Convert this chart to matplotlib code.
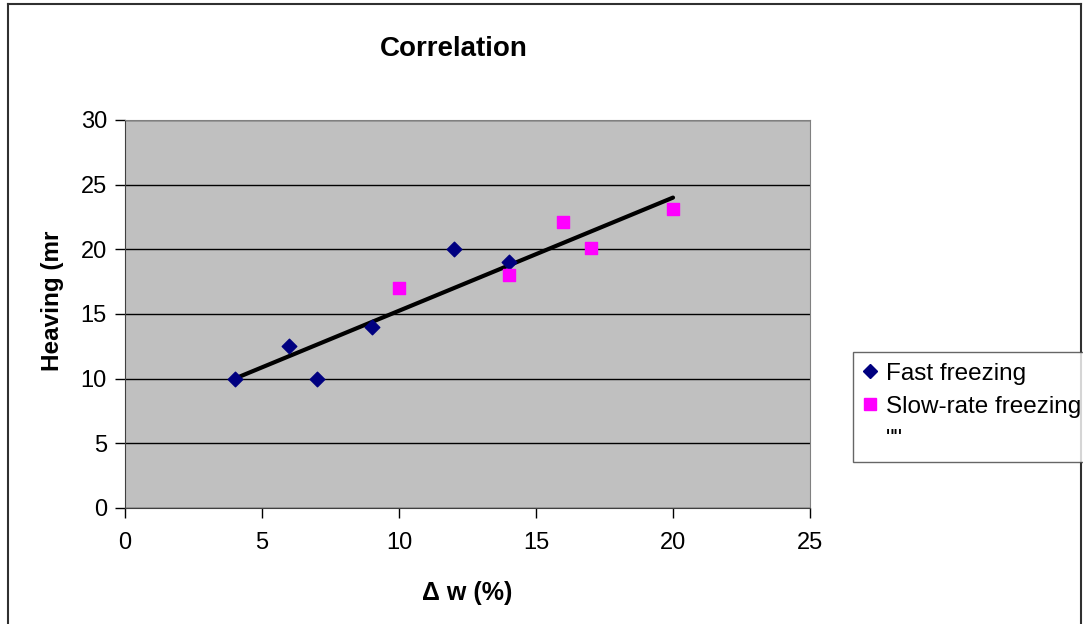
import matplotlib
matplotlib.use("Agg")
import matplotlib.pyplot as plt
from matplotlib.lines import Line2D

plt.rcParams['font.family'] = ['Liberation Sans', 'DejaVu Sans']

# data
fast_x = [4, 6, 7, 9, 12, 14]
fast_y = [10, 12.5, 10, 14, 20, 19]
slow_x = [10, 14, 16, 17, 20]
slow_y = [17, 18, 22.1, 20.1, 23.1]
trend_x = [4, 20]
trend_y = [10, 24]
xticks = [0, 5, 10, 15, 20, 25]
yticks = [0, 5, 10, 15, 20, 25, 30]

fig = plt.figure(figsize=(10.83, 6.24), dpi=100)
ax = fig.add_axes([125/1083, (624-508)/624, (810-125)/1083, (508-120)/624])
ax.set_facecolor('#c0c0c0')

ax.set_xlim(0, 25)
ax.set_ylim(0, 30)
ax.set_xticks(xticks)
ax.set_yticks(yticks)
ax.yaxis.grid(True, color='black', linewidth=1)
ax.set_axisbelow(True)

ax.plot(trend_x, trend_y, color='black', linewidth=3, solid_capstyle='round', zorder=3)
ax.scatter(fast_x, fast_y, marker='D', s=55, color='#000080', zorder=4)
ax.scatter(slow_x, slow_y, marker='s', s=75, color='#ff00ff', zorder=4)

for side in ['top', 'right']:
    ax.spines[side].set_color('#808080')
for side in ['left', 'bottom']:
    ax.spines[side].set_color('#404040')
ax.tick_params(direction='out', length=7, width=1, labelsize=17)
ax.tick_params(axis='x', pad=10)
ax.tick_params(axis='y', pad=6)

ax.set_title('Correlation', fontsize=20, fontweight='bold', pad=46, x=0.48)
ax.set_xlabel('Δ w (%)', fontsize=18, fontweight='bold', labelpad=20)
ax.set_ylabel('Heaving (mr', fontsize=17.5, fontweight='bold')
ax.yaxis.set_label_coords(-0.089, 0.535)

handles = [
    Line2D([], [], marker='D', linestyle='none', color='#000080', markersize=7),
    Line2D([], [], marker='s', linestyle='none', color='#ff00ff', markersize=8),
    Line2D([], [], linestyle='none'),
]
leg = fig.legend(handles, ['Fast freezing', 'Slow-rate freezing', '""'],
                 loc='upper left', bbox_to_anchor=(853/1083, 1 - 352/624),
                 fontsize=17.5, frameon=True, fancybox=False, handlelength=0.5,
                 handletextpad=0.4, labelspacing=0.45, borderpad=0.45, borderaxespad=0)
leg.get_frame().set_edgecolor('#404040')
leg.get_frame().set_linewidth(1)

# outer chart frame
for xs, ys in [([8, 8], [0, 620]), ([8, 1081], [620, 620]), ([1081, 1081], [620, 0])]:
    fig.add_artist(Line2D([x/1083 for x in xs], [y/624 for y in ys], color='#303030', linewidth=1.5))

fig.savefig('out.png', dpi=100)
